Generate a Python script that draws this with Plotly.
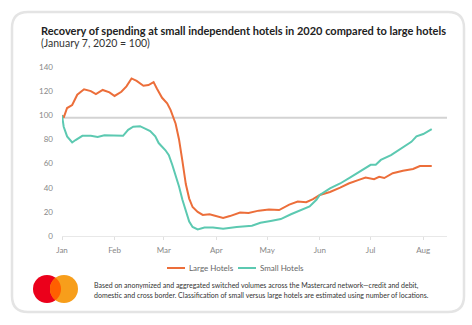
import numpy as np
import pandas as pd
import plotly.graph_objects as go

# ---------------- data ----------------
large_dates = ["2020-01-01","2020-01-02","2020-01-04","2020-01-07","2020-01-10","2020-01-14","2020-01-18","2020-01-21","2020-01-25","2020-01-29",
               "2020-02-01","2020-02-05","2020-02-08","2020-02-11","2020-02-14","2020-02-18","2020-02-21","2020-02-24","2020-02-26","2020-02-29",
               "2020-03-03","2020-03-05","2020-03-08","2020-03-10","2020-03-12","2020-03-13","2020-03-14","2020-03-16","2020-03-18","2020-03-21",
               "2020-03-24","2020-03-28","2020-04-01","2020-04-05","2020-04-09","2020-04-15","2020-04-20","2020-04-26","2020-05-02","2020-05-08",
               "2020-05-14","2020-05-19","2020-05-24","2020-05-28","2020-06-01","2020-06-07","2020-06-13","2020-06-18","2020-06-24","2020-06-28",
               "2020-07-03","2020-07-06","2020-07-09","2020-07-14","2020-07-20","2020-07-26","2020-07-30","2020-08-06"]
large_values = [100, 98, 106, 108.5, 117, 121.5, 120, 117.5, 121, 119,
                116, 119.5, 124, 130.5, 128.5, 124.5, 125, 127.5, 122, 114.5,
                110, 104.5, 93, 80, 62, 54, 43, 31, 24, 20,
                17.5, 18, 16.5, 15, 16.5, 19.5, 19, 21, 22, 21.5,
                26, 28.5, 28, 30.5, 34, 36.5, 40, 43.5, 46.5, 48.5,
                47, 49, 48, 52, 54, 55.5, 58, 58]

small_dates = ["2020-01-01","2020-01-02","2020-01-04","2020-01-07","2020-01-09","2020-01-13","2020-01-18","2020-01-22","2020-01-26","2020-01-30",
               "2020-02-03","2020-02-06","2020-02-09","2020-02-12","2020-02-16","2020-02-19","2020-02-22","2020-02-25","2020-02-27","2020-03-02",
               "2020-03-04","2020-03-06","2020-03-08","2020-03-10","2020-03-12","2020-03-14","2020-03-16","2020-03-18","2020-03-21","2020-03-25",
               "2020-03-30","2020-04-05","2020-04-13","2020-04-22","2020-04-27","2020-05-03","2020-05-09","2020-05-15","2020-05-21","2020-05-26",
               "2020-05-30","2020-06-01","2020-06-07","2020-06-13","2020-06-19","2020-06-25","2020-07-01","2020-07-04","2020-07-07","2020-07-13",
               "2020-07-19","2020-07-25","2020-07-28","2020-08-01","2020-08-06"]
small_values = [100, 90.5, 82.5, 77.5, 79.5, 83, 83, 82, 83.5, 83.5,
                83, 83, 88, 90.5, 91, 89, 87, 82.5, 77, 71,
                67, 59, 50.5, 41, 30, 20, 12, 7.5, 5.5, 7,
                7, 6, 7.5, 8.5, 11, 12.5, 14, 18, 21.5, 24.5,
                30, 34, 39.5, 43.5, 48.5, 54, 59, 59, 63, 67,
                72.5, 78, 82.5, 84.5, 88.5]

month_ticks = ["2020-01-01","2020-02-01","2020-03-01","2020-04-01","2020-05-01","2020-06-01","2020-07-01","2020-08-01"]
month_labels = ["Jan","Feb","Mar","Apr","May","Jun","Jul","Aug"]
y_ticks = [0, 20, 40, 60, 80, 100, 120, 140]
reference_level = 98

series_names = ["Large Hotels", "Small Hotels"]
title_text = "Recovery of spending at small independent hotels in 2020 compared to large hotels"
subtitle_text = "(January 7, 2020 = 100)"
note_lines = ["Based on anonymized and aggregated switched volumes across the Mastercard network\u2014credit and debit,",
              "domestic and cross border. Classification of small versus large hotels are estimated using number of locations."]

# ---------------- style ----------------
ORANGE = "#EC6E3A"
TEAL = "#5CC9B1"
FONT = "Lato"
W, H = 472, 325
PL, PR, PT, PB = 62, 447, 67, 236


def px(x):
    return (x - PL) / (PR - PL)


def py(y):
    return (PB - y) / (PB - PT)


fig = go.Figure()
fig.add_trace(go.Scatter(x=pd.to_datetime(large_dates), y=large_values, mode="lines",
                         name=series_names[0], line=dict(color=ORANGE, width=2)))
fig.add_trace(go.Scatter(x=pd.to_datetime(small_dates), y=small_values, mode="lines",
                         name=series_names[1], line=dict(color=TEAL, width=2)))

shapes = []
# reference line
shapes.append(dict(type="line", xref="paper", x0=0, x1=1, yref="y", y0=reference_level, y1=reference_level,
                   line=dict(color="#D3D3D3", width=2), layer="below"))

# card outline (rounded rectangle)
x0, y0, x1, y1, r = 12, 12, 464, 312, 16
pts = [("M", x0 + r, y0), ("L", x1 - r, y0), ("Q", x1, y0, x1, y0 + r), ("L", x1, y1 - r),
       ("Q", x1, y1, x1 - r, y1), ("L", x0 + r, y1), ("Q", x0, y1, x0, y1 - r), ("L", x0, y0 + r),
       ("Q", x0, y0, x0 + r, y0)]
path = ""
for p in pts:
    cmd = p[0]
    coords = p[1:]
    segs = []
    for i in range(0, len(coords), 2):
        segs.append(f"{px(coords[i]):.5f},{py(coords[i+1]):.5f}")
    path += cmd + " " + " ".join(segs) + " "
path += "Z"
shapes.append(dict(type="path", xref="paper", yref="paper", path=path,
                   line=dict(color="#E4E4E4", width=2.5), layer="below"))

# legend marks
shapes.append(dict(type="line", xref="paper", yref="paper", x0=px(167), x1=px(185), y0=py(268), y1=py(268),
                   line=dict(color=ORANGE, width=2)))
shapes.append(dict(type="line", xref="paper", yref="paper", x0=px(238), x1=px(256), y0=py(268), y1=py(268),
                   line=dict(color=TEAL, width=2)))

# Mastercard logo
cr = 14
c1x, c2x, cy = 47, 64, 289
shapes.append(dict(type="circle", xref="paper", yref="paper", x0=px(c1x - cr), x1=px(c1x + cr),
                   y0=py(cy + cr), y1=py(cy - cr), fillcolor="#EB001B", line=dict(width=0)))
shapes.append(dict(type="circle", xref="paper", yref="paper", x0=px(c2x - cr), x1=px(c2x + cr),
                   y0=py(cy + cr), y1=py(cy - cr), fillcolor="#F79E1B", line=dict(width=0)))
d = (c2x - c1x) / 2
th = np.arccos(d / cr)
a1 = np.linspace(-th, th, 24)
a2 = np.linspace(np.pi - th, np.pi + th, 24)
lens = [(c1x + cr * np.cos(a), cy + cr * np.sin(a)) for a in a1] + \
       [(c2x + cr * np.cos(a), cy - cr * np.sin(a)) for a in a2]
lens_path = "M " + " L ".join(f"{px(x):.5f},{py(y):.5f}" for x, y in lens) + " Z"
shapes.append(dict(type="path", xref="paper", yref="paper", path=lens_path,
                   fillcolor="#FF5F00", line=dict(width=0)))

annotations = [
    dict(text="<b>" + title_text + "</b>", x=px(39), y=py(30), xref="paper", yref="paper",
         xanchor="left", yanchor="middle", showarrow=False, font=dict(family=FONT, size=11, color="#222222")),
    dict(text=subtitle_text, x=px(39), y=py(43), xref="paper", yref="paper",
         xanchor="left", yanchor="middle", showarrow=False, font=dict(family=FONT, size=10.5, color="#333333")),
    dict(text=series_names[0], x=px(187), y=py(268), xref="paper", yref="paper",
         xanchor="left", yanchor="middle", showarrow=False, font=dict(family=FONT, size=8, color="#666666")),
    dict(text=series_names[1], x=px(258), y=py(268), xref="paper", yref="paper",
         xanchor="left", yanchor="middle", showarrow=False, font=dict(family=FONT, size=8, color="#666666")),
    dict(text=note_lines[0], x=px(92), y=py(285.5), xref="paper", yref="paper",
         xanchor="left", yanchor="middle", showarrow=False, font=dict(family=FONT, size=7, color="#333333")),
    dict(text=note_lines[1], x=px(92), y=py(294.5), xref="paper", yref="paper",
         xanchor="left", yanchor="middle", showarrow=False, font=dict(family=FONT, size=7, color="#333333")),
]

fig.update_layout(
    width=W, height=H, autosize=False,
    margin=dict(l=PL, r=W - PR, t=PT, b=H - PB, pad=0),
    paper_bgcolor="white", plot_bgcolor="white",
    showlegend=False,
    shapes=shapes, annotations=annotations,
    font=dict(family=FONT, color="#888888"),
    xaxis=dict(type="date", range=["2020-01-01", "2020-08-15"], tickvals=pd.to_datetime(month_ticks),
               ticktext=month_labels, showgrid=False, zeroline=False, showline=True,
               linecolor="#E8E8E8", linewidth=1, ticks="outside", ticklen=3, tickcolor="#E0E0E0",
               tickfont=dict(family=FONT, size=8, color="#888888"), ticklabelstandoff=3, fixedrange=True),
    yaxis=dict(range=[0, 140], tickvals=y_ticks, showgrid=False, zeroline=False, showline=False,
               ticks="", tickfont=dict(family=FONT, size=8, color="#888888"), ticklabelstandoff=8,
               fixedrange=True),
)

fig.write_html("out.html")
